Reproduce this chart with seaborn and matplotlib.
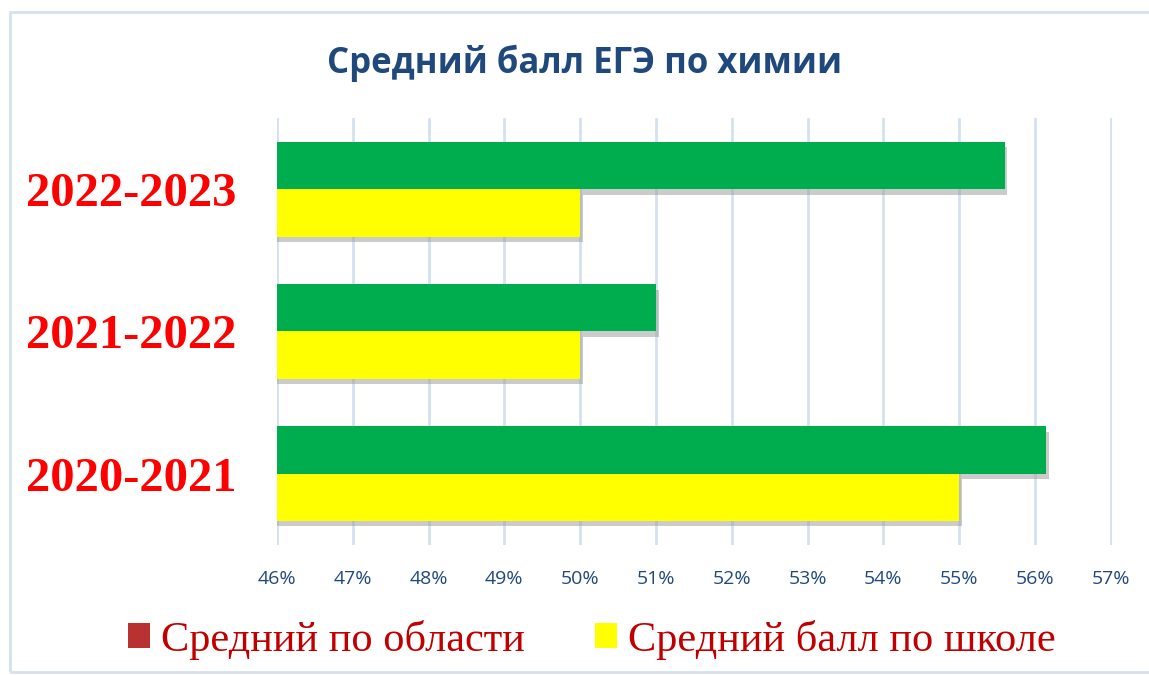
import matplotlib.pyplot as plt
import matplotlib.patheffects as pe
from matplotlib.patches import Patch, Rectangle
from matplotlib.ticker import FuncFormatter
import pandas as pd
import seaborn as sns

years = ['2022-2023', '2021-2022', '2020-2021']
region_avg = [55.6, 51.0, 56.15]   # green bars
school_avg = [50.0, 50.0, 55.0]    # yellow bars
series = ['Средний по области', 'Средний балл по школе']
ticks = list(range(46, 58))

df = pd.DataFrame({
    'year': years * 2,
    'value': region_avg + school_avg,
    'series': [series[0]] * 3 + [series[1]] * 3,
})

sns.set_style('white')
plt.rcParams['font.family'] = ['Open Sans', 'DejaVu Sans']

fig = plt.figure(figsize=(11.49, 6.75), dpi=100)
ax = fig.add_axes([0.241, 0.193, 0.727, 0.632])

sns.barplot(data=df, y='year', x='value', hue='series', order=years, hue_order=series,
            palette=['#00AD4E', '#FFFF00'], orient='h', width=0.665, ax=ax,
            legend=False, saturation=1, edgecolor='none', linewidth=0, zorder=3)

# soft drop shadow like the office chart
shadow = [pe.SimplePatchShadow(offset=(2, -4), shadow_rgbFace='#999999', alpha=0.5), pe.Normal()]
for p in ax.patches:
    p.set_path_effects(shadow)

ax.set_xlim(46, 57.02)
ax.set_ylim(2.5, -0.5)
ax.set_xticks(ticks)
ax.xaxis.set_major_formatter(FuncFormatter(lambda v, _: '%d%%' % v))
ax.grid(axis='x', color='#D5E1F1', linewidth=2, zorder=0)
ax.grid(axis='y', visible=False)
for s in ax.spines.values():
    s.set_visible(False)
ax.tick_params(axis='x', length=0, pad=18, labelsize=14, labelcolor='#1F497D')
ax.tick_params(axis='y', length=0, pad=29)
for lbl in ax.get_yticklabels():
    lbl.set_fontfamily('Liberation Serif')
    lbl.set_fontweight('bold')
    lbl.set_fontsize(35)
    lbl.set_color('#FF0000')
ax.set_xlabel('')
ax.set_ylabel('')

fig.text(0.509, 0.906, 'Средний балл ЕГЭ по химии', ha='center', va='center',
         fontsize=25, fontweight='bold', color='#1F497D')

handles = [Patch(facecolor='#B83232', edgecolor='none'), Patch(facecolor='#FFFF00', edgecolor='none')]
fig.legend(handles, series, loc='center', bbox_to_anchor=(0.515, 0.052), ncol=2, frameon=False,
           prop={'family': 'Liberation Serif', 'size': 30.5}, labelcolor='#C00000',
           handlelength=0.53, handleheight=0.53, handletextpad=0.25, columnspacing=1.65)

fig.patches.append(Rectangle((0.009, 0.005), 1.0, 0.977, transform=fig.transFigure,
                             fill=False, edgecolor='#D5E1F1', linewidth=2))

fig.savefig('out.png', dpi=100)
